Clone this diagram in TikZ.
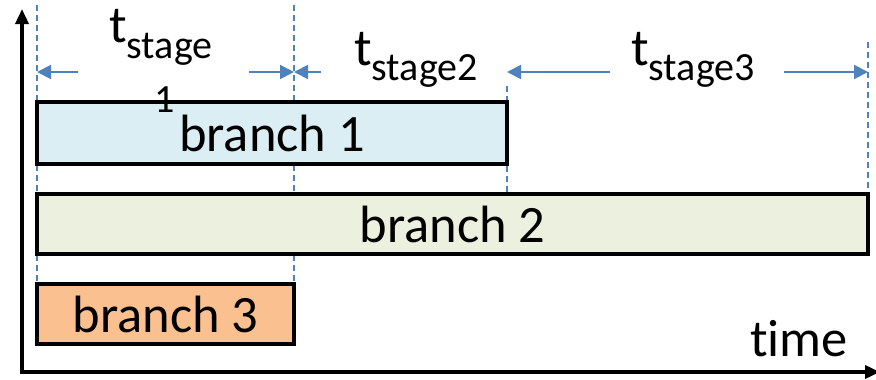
\documentclass[tikz,border=0pt]{standalone}
\usepackage{fontspec}
\setmainfont[Ligatures=NoCommon]{Carlito}
\usetikzlibrary{arrows.meta}
\definecolor{guide}{HTML}{4F81BD}
\definecolor{fillA}{HTML}{DBEEF4}
\definecolor{fillB}{HTML}{EBF1DE}
\definecolor{fillC}{HTML}{FAC090}
\newcommand{\bigtxt}{\fontsize{52.5}{60}\selectfont}
\newcommand{\subtxt}{\fontsize{40}{46}\selectfont}
\begin{document}
\begin{tikzpicture}[x=1pt,y=-1pt,
  bar/.style={draw=black,line width=4.5pt,inner sep=0pt,font=\bigtxt},
  guideline/.style={draw=guide,line width=1.4pt,dash pattern=on 6pt off 4pt},
  span/.style={draw=guide,line width=2pt,-{Triangle[length=14pt,width=14pt]}},
  axis/.style={draw=black,line width=3.5pt,-{Triangle[length=15pt,width=13pt]}},
  lbl/.style={inner sep=0pt,anchor=base west}]
\useasboundingbox (0,0) rectangle (876,380);

% stage boundaries
\coordinate (g1t) at (37,5);   \coordinate (g1b) at (37,345);
\coordinate (g2t) at (294,5);  \coordinate (g2b) at (294,345);
\coordinate (g3t) at (507,86); \coordinate (g3b) at (507,192);
\coordinate (g4t) at (868,42); \coordinate (g4b) at (868,256);
\draw[guideline] (g1t) -- (g1b);
\draw[guideline] (g2t) -- (g2b);
\draw[guideline] (g3t) -- (g3b);
\draw[guideline] (g4t) -- (g4b);

% axes
\coordinate (origin) at (22,372);
\coordinate (yend) at (22,9);
\coordinate (xend) at (880,372);
\coordinate (xstart) at (20.25,372);
\draw[axis] (origin) ++(0,1.75) -- (yend);
\draw[axis] (xstart) -- (xend);

% branches
\node[bar,fill=fillA,minimum width=470,minimum height=62] (b1) at (272,133) {branch 1};
\node[bar,fill=fillB,minimum width=831,minimum height=60] (b2) at (452.5,224) {branch 2};
\node[bar,fill=fillC,minimum width=257,minimum height=60] (b3) at (165.5,314) {branch 3};

% stage durations
\coordinate (s1a) at (78,72);  \coordinate (s1l) at (37,72);
\coordinate (s1b) at (249,72); \coordinate (s1r) at (294,72);
\coordinate (s2a) at (321,72); \coordinate (s2l) at (294,72);
\coordinate (s3a) at (610,72); \coordinate (s3l) at (507,72);
\coordinate (s3b) at (784,72); \coordinate (s3r) at (868,72);
\draw[span] (s1a) -- (s1l);
\draw[span] (s1b) -- (s1r);
\draw[span] (s2a) -- (s2l);
\draw[span] (s3a) -- (s3l);
\draw[span] (s3b) -- (s3r);

\node[lbl] (t1) at (109,42) {\bigtxt t\raisebox{-16pt}{\subtxt stage}};
\node[lbl] (t1n) at (154,112) {\subtxt 1};
\node[lbl] (t2) at (354,65) {\bigtxt t\raisebox{-15pt}{\subtxt stage2}};
\node[lbl] (t3) at (631,65) {\bigtxt t\raisebox{-15pt}{\subtxt stage3}};

\node[lbl] (time) at (750,356) {\bigtxt time};
\end{tikzpicture}
\end{document}
